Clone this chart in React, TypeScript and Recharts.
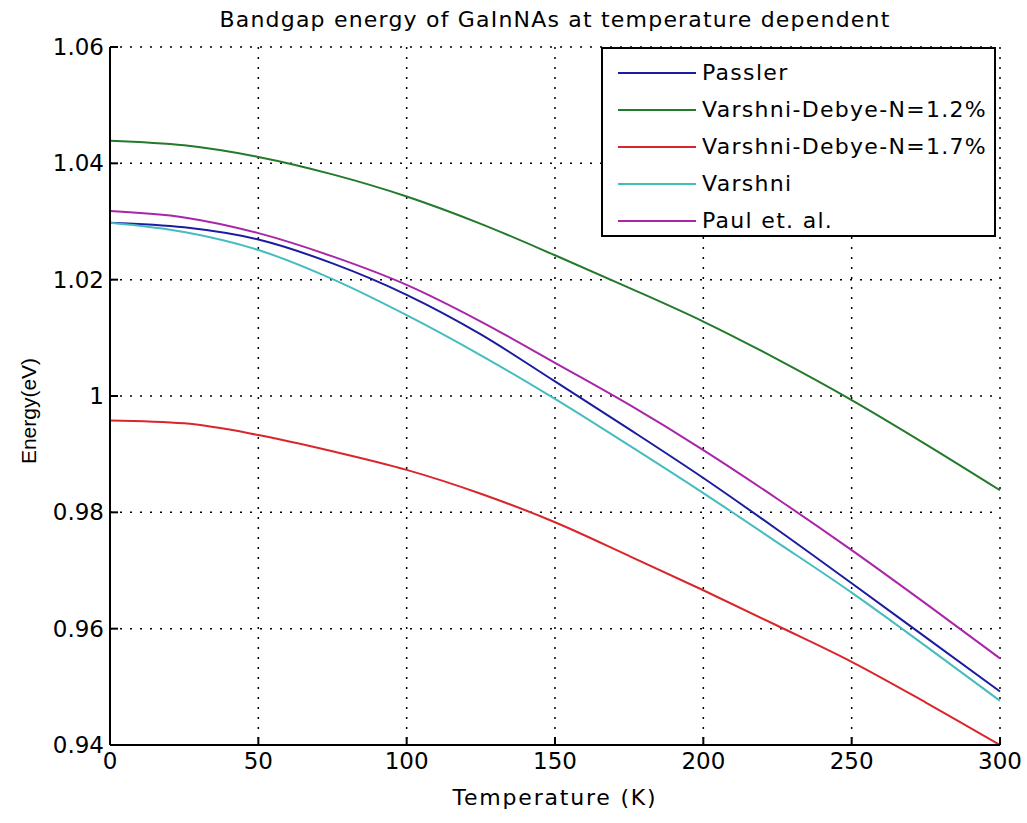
import React from 'react';
import { LineChart, Line, XAxis, YAxis, CartesianGrid } from 'recharts';

const TEMPS = [0, 25, 50, 75, 100, 125, 150, 175, 200, 225, 250, 275, 300];
const PASSLER = [1.0298, 1.029, 1.0269, 1.0228, 1.0174, 1.0106, 1.0025, 0.9943, 0.9859, 0.977, 0.9678, 0.9585, 0.9492];
const VD_12 = [1.0439, 1.0431, 1.0411, 1.0381, 1.0343, 1.0296, 1.0242, 1.0186, 1.0128, 1.0063, 0.9993, 0.9917, 0.9838];
const VD_17 = [0.9958, 0.9953, 0.9933, 0.9905, 0.9873, 0.9832, 0.9783, 0.9725, 0.9666, 0.9605, 0.9543, 0.9473, 0.94];
const VARSHNI = [1.0298, 1.0282, 1.0251, 1.0201, 1.0139, 1.007, 0.9995, 0.9915, 0.9833, 0.9748, 0.9662, 0.957, 0.9476];
const PAUL = [1.0318, 1.0307, 1.028, 1.024, 1.0191, 1.0128, 1.0057, 0.9985, 0.9907, 0.9823, 0.9735, 0.9643, 0.9549];

const X_TICKS = [0, 50, 100, 150, 200, 250, 300];
const Y_TICKS = [0.94, 0.96, 0.98, 1, 1.02, 1.04, 1.06];

const SERIES = [
  { key: 'passler', name: 'Passler', color: '#1c1ca0' },
  { key: 'vd12', name: 'Varshni-Debye-N=1.2%', color: '#237a2a' },
  { key: 'vd17', name: 'Varshni-Debye-N=1.7%', color: '#d9262b' },
  { key: 'varshni', name: 'Varshni', color: '#45bcc0' },
  { key: 'paul', name: 'Paul et. al.', color: '#a926a9' },
];

const data = TEMPS.map((t, i) => ({
  t,
  passler: PASSLER[i],
  vd12: VD_12[i],
  vd17: VD_17[i],
  varshni: VARSHNI[i],
  paul: PAUL[i],
}));

const FONT = '"DejaVu Sans", sans-serif';

export default function App() {
  const tickStyle = { fill: '#000', fontSize: 23, fontFamily: FONT };
  return (
    <div style={{ position: 'absolute', left: 0, top: 0, width: 1027, height: 823, background: '#fff', fontFamily: FONT }}>
      <LineChart width={1027} height={823} data={data} margin={{ top: 47, right: 27, bottom: 0, left: 0 }} style={{ position: 'absolute', left: 0, top: 0 }}>
        <CartesianGrid stroke="#000" strokeDasharray="2 8" strokeWidth={1.5} horizontalValues={Y_TICKS} verticalValues={X_TICKS} />
        <XAxis dataKey="t" type="number" domain={[0, 300]} ticks={X_TICKS} height={78}
          axisLine={{ stroke: '#000', strokeWidth: 2 }} tickLine={{ stroke: '#000', strokeWidth: 2 }}
          tickSize={-8} tickMargin={16} tick={tickStyle} />
        <XAxis xAxisId="top" orientation="top" type="number" domain={[0, 300]} ticks={X_TICKS} height={0}
          axisLine={{ stroke: '#000', strokeWidth: 2 }} tick={false} />
        <YAxis type="number" domain={[0.94, 1.06]} ticks={Y_TICKS} width={110} allowDataOverflow
          axisLine={{ stroke: '#000', strokeWidth: 2 }} tickLine={{ stroke: '#000', strokeWidth: 2 }}
          tickSize={-8} tickMargin={14} tick={tickStyle} />
        <YAxis yAxisId="right" orientation="right" type="number" domain={[0.94, 1.06]} width={0}
          axisLine={{ stroke: '#000', strokeWidth: 2 }} tick={false} />
        {SERIES.map(s => (
          <Line key={s.key} dataKey={s.key} name={s.name} type="monotone" stroke={s.color} strokeWidth={2}
            dot={false} isAnimationActive={false} />
        ))}
      </LineChart>
      <div style={{ position: 'absolute', left: 110, width: 890, top: 7, textAlign: 'center', fontSize: 22, letterSpacing: 1.2 }}>
        Bandgap energy of GaInNAs at temperature dependent
      </div>
      <div style={{ position: 'absolute', left: 110, width: 890, top: 785, textAlign: 'center', fontSize: 22, letterSpacing: 1.8 }}>
        Temperature (K)
      </div>
      <div style={{ position: 'absolute', left: 29, top: 411, transform: 'translate(-50%, -50%) rotate(-90deg)', fontSize: 21, whiteSpace: 'nowrap', fontFamily: '"Liberation Sans", Arial, sans-serif' }}>
        Energy(eV)
      </div>
      <div style={{ position: 'absolute', left: 601, top: 47, width: 395, height: 190, border: '2px solid #000', background: '#fff', boxSizing: 'border-box', paddingTop: 5 }}>
        {SERIES.map(s => (
          <div key={s.key} style={{ display: 'flex', alignItems: 'center', height: 37 }}>
            <div style={{ width: 78, height: 2, background: s.color, marginLeft: 15, marginRight: 6 }} />
            <span style={{ fontSize: 22, letterSpacing: 1.3, color: '#000', whiteSpace: 'nowrap' }}>{s.name}</span>
          </div>
        ))}
      </div>
    </div>
  );
}
